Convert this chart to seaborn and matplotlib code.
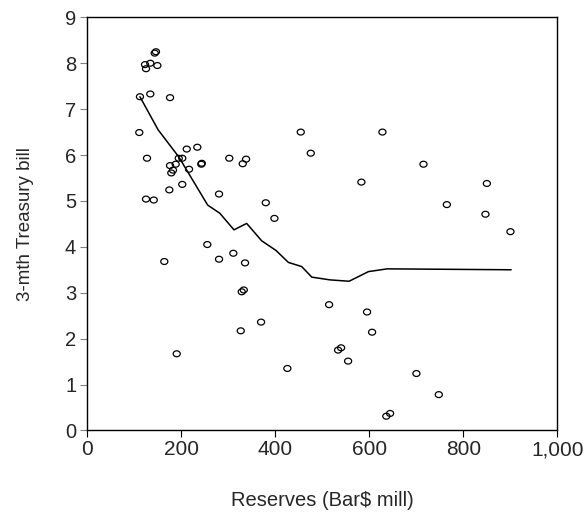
import matplotlib
matplotlib.use('Agg')
from matplotlib import pyplot as plt
from matplotlib.path import Path
import seaborn as sns
import numpy as np
import pandas as pd

# scatter points
reserves = [146, 143.4, 122.8, 124.9, 134, 149, 112, 134, 176, 110.6,
            127, 211.5, 234, 194.5, 202, 302, 330.6, 337.7, 176, 188,
            242.5, 243.5, 182.3, 178.7, 216.4, 174.5, 202, 124.9, 141.3, 280.2,
            379.6, 398, 255.3, 280.2, 310.6, 335.5, 163.8, 328.5, 332.8, 369.6,
            454, 627.7, 475.3, 715, 583, 849.8, 764.7, 846.8, 900, 514.3,
            595, 605.7, 539.8, 533.4, 554.7, 425.5, 700, 747.6, 636, 644,
            190.2, 326.4]
tbill = [8.25, 8.22, 7.97, 7.88, 8.00, 7.95, 7.27, 7.33, 7.25, 6.49,
         5.93, 6.13, 6.17, 5.93, 5.93, 5.93, 5.81, 5.91, 5.77, 5.80,
         5.80, 5.82, 5.67, 5.61, 5.69, 5.24, 5.36, 5.04, 5.02, 5.15,
         4.96, 4.62, 4.05, 3.73, 3.86, 3.65, 3.68, 3.02, 3.06, 2.36,
         6.50, 6.50, 6.04, 5.80, 5.41, 5.38, 4.92, 4.71, 4.33, 2.74,
         2.58, 2.14, 1.80, 1.75, 1.51, 1.35, 1.24, 0.78, 0.31, 0.37,
         1.67, 2.17]

# smoothed fit line
fit_x = [112, 150.6, 194.5, 256, 282, 312, 339, 371, 401.5, 427.7,
         456, 477.4, 516, 556.8, 598, 638, 901.5]
fit_y = [7.27, 6.55, 5.96, 4.91, 4.73, 4.37, 4.51, 4.13, 3.92, 3.66,
         3.57, 3.34, 3.28, 3.25, 3.46, 3.52, 3.50]

x_ticks = [0, 200, 400, 600, 800, 1000]
x_ticklabels = ['0', '200', '400', '600', '800', '1,000']
y_ticks = list(range(0, 10))

pts = pd.DataFrame({'reserves': reserves, 'tbill': tbill})
fit = pd.DataFrame({'reserves': fit_x, 'tbill': fit_y})

# slightly wide open circle, like the original
t = np.linspace(0, 2 * np.pi, 40)
oval = Path(np.column_stack([1.2 * np.cos(t), np.sin(t)]), closed=True)

sns.set_style('ticks')
plt.rcParams['font.family'] = ['Liberation Sans', 'DejaVu Sans']

fig = plt.figure(figsize=(5.87, 5.14), dpi=100)
ax = fig.add_axes([0.1487, 0.1626, 0.8010, 0.8037])

sns.lineplot(data=fit, x='reserves', y='tbill', color='black', linewidth=1.1,
             sort=False, ax=ax)
sns.scatterplot(data=pts, x='reserves', y='tbill', marker=oval, s=26,
                facecolor='none', edgecolor='black', linewidth=0.9, ax=ax)

ax.set_xlim(0, 1000)
ax.set_ylim(0, 9)
ax.set_xticks(x_ticks)
ax.set_xticklabels(x_ticklabels)
ax.set_yticks(y_ticks)

for s in ax.spines.values():
    s.set_visible(True)
    s.set_color('black')
    s.set_linewidth(1.0)

ax.tick_params(axis='x', direction='out', length=5, width=0.8, color='black',
               labelsize=15, pad=2)
ax.tick_params(axis='y', direction='out', length=5, width=0.8, color='gray',
               labelsize=14.5, pad=3)

ax.set_xlabel('Reserves (Bar$ mill)', fontsize=14.5, labelpad=23)
ax.set_ylabel('3-mth Treasury bill', fontsize=13.5, labelpad=22)

plt.savefig('out.png', dpi=100)
